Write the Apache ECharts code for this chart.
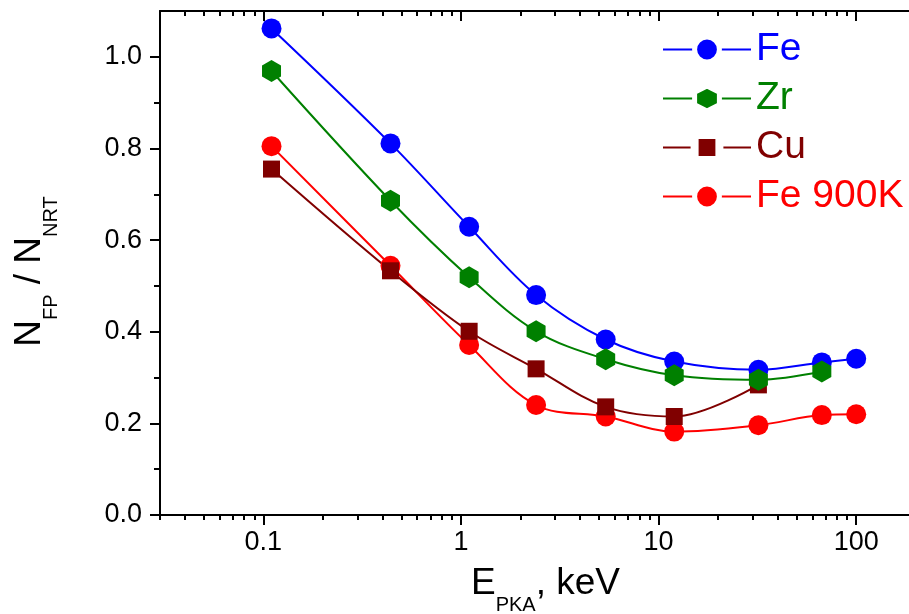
<!DOCTYPE html>
<html><head><meta charset="utf-8">
<script src="https://cdn.jsdelivr.net/npm/echarts@6/dist/echarts.min.js"></script>
<style>html,body{margin:0;padding:0;background:#fff}#c{width:909px;height:614px}</style>
</head><body><div id="c"></div>
<script>
// ---- data ----
const energies = [0.11, 0.44, 1.1, 2.4, 5.4, 12, 32, 67, 100];
const feValues = [1.062, 0.811, 0.629, 0.480, 0.383, 0.335, 0.317, 0.333, 0.341];
const zrValues = [0.969, 0.686, 0.519, 0.401, 0.340, 0.305, 0.295, 0.313];
const cuValues = [0.755, 0.533, 0.401, 0.319, 0.236, 0.215, 0.284];
const fe900Values = [0.805, 0.544, 0.371, 0.240, 0.215, 0.182, 0.196, 0.218, 0.220];
const seriesNames = ['Fe', 'Zr', 'Cu', 'Fe 900K'];
const xMajorTicks = [0.1, 1, 10, 100];
const xMinorTicks = [0.03, 0.04, 0.05, 0.06, 0.07, 0.08, 0.09,
  0.2, 0.3, 0.4, 0.5, 0.6, 0.7, 0.8, 0.9,
  2, 3, 4, 5, 6, 7, 8, 9,
  20, 30, 40, 50, 60, 70, 80, 90];
const yMajorTicks = [0, 0.2, 0.4, 0.6, 0.8, 1.0];
const yMinorTicks = [0.1, 0.3, 0.5, 0.7, 0.9];

const FONT = 'Arial, "Liberation Sans", sans-serif';
const colors = {'Fe': '#0000ff', 'Zr': '#008000', 'Cu': '#800000', 'Fe 900K': '#ff0000'};
const HEX = 'path://M0,-10L8.66,-5L8.66,5L0,10L-8.66,5L-8.66,-5Z';

function pairs(vals) { return vals.map((v, i) => [energies[i], v]); }

const gridRect = {left: 160, right: 0, top: 11, bottom: 99, outerBoundsMode: 'none'};
const axisLineStyle = {show: true, lineStyle: {color: '#000', width: 2}};

function mkSeries(name, vals, symbol, size) {
  return {
    name, type: 'line', xAxisIndex: 0, yAxisIndex: 0,
    data: pairs(vals), smooth: 0.35,
    symbol, symbolSize: size, symbolKeepAspect: false,
    color: colors[name],
    lineStyle: {color: colors[name], width: 2},
    itemStyle: {color: colors[name], borderWidth: 0},
    emphasis: {disabled: true}
  };
}

const chart = echarts.init(document.getElementById('c'), null, {renderer: 'canvas'});
chart.setOption({
  animation: false,
  backgroundColor: '#fff',
  grid: [Object.assign({}, gridRect), Object.assign({}, gridRect)],
  legend: {
    orient: 'vertical', left: 662, top: 30, padding: 0,
    itemWidth: 88, itemHeight: 31, itemGap: 10,
    textStyle: {fontSize: 39, fontFamily: FONT},
    itemStyle: {borderColor: '#fff', borderWidth: 5},
    data: [
      {name: 'Fe', textStyle: {color: colors['Fe']}},
      {name: 'Zr', textStyle: {color: colors['Zr']}},
      {name: 'Cu', textStyle: {color: colors['Cu']}, itemStyle: {borderColor: '#fff', borderWidth: 8}},
      {name: 'Fe 900K', textStyle: {color: colors['Fe 900K']}}
    ]
  },
  xAxis: [
    { gridIndex: 0, type: 'log', position: 'bottom', min: 0.03, max: 185,
      axisLine: axisLineStyle, splitLine: {show: false},
      axisTick: {show: true, customValues: xMajorTicks, length: 10, inside: false, lineStyle: {color: '#000', width: 2}},
      axisLabel: {show: true, customValues: xMajorTicks, color: '#000', fontSize: 27, fontFamily: FONT, margin: 14,
        formatter: v => String(v)},
      name: '{m|E}{s|PKA}{m|, keV}', nameLocation: 'middle', nameGap: 50, nameMoveOverlap: false,
      nameTextStyle: {padding: [0, 0, 0, 22], rich: {
        m: {fontSize: 37, fontFamily: FONT, color: '#000'},
        s: {fontSize: 20, fontFamily: FONT, color: '#000', lineHeight: 20, padding: [44, 0, 0, 0]}
      }}
    },
    { gridIndex: 0, type: 'log', position: 'top', min: 0.03, max: 185,
      axisLine: axisLineStyle, splitLine: {show: false},
      axisTick: {show: true, customValues: xMajorTicks, length: 10, inside: true, lineStyle: {color: '#000', width: 2}},
      axisLabel: {show: false}
    },
    { gridIndex: 1, type: 'log', position: 'bottom', min: 0.03, max: 185,
      axisLine: {show: false}, splitLine: {show: false},
      axisTick: {show: true, customValues: xMinorTicks, length: 5, inside: false, lineStyle: {color: '#000', width: 2}},
      axisLabel: {show: false}
    },
    { gridIndex: 1, type: 'log', position: 'top', min: 0.03, max: 185,
      axisLine: {show: false}, splitLine: {show: false},
      axisTick: {show: true, customValues: xMinorTicks, length: 5, inside: true, lineStyle: {color: '#000', width: 2}},
      axisLabel: {show: false}
    }
  ],
  yAxis: [
    { gridIndex: 0, type: 'value', position: 'left', min: 0, max: 1.1,
      axisLine: axisLineStyle, splitLine: {show: false},
      axisTick: {show: true, customValues: yMajorTicks, length: 10, inside: false, lineStyle: {color: '#000', width: 2}},
      axisLabel: {show: true, customValues: yMajorTicks, color: '#000', fontSize: 27, fontFamily: FONT, margin: 18,
        formatter: v => v.toFixed(1)},
      name: '{m|N}{s|FP}{m| / N}{s|NRT}', nameLocation: 'middle', nameGap: 112, nameMoveOverlap: false,
      nameTextStyle: {padding: [0, 17, 0, 0], rich: {
        m: {fontSize: 37, fontFamily: FONT, color: '#000'},
        s: {fontSize: 20, fontFamily: FONT, color: '#000', lineHeight: 20, padding: [44, 0, 0, 0]}
      }}
    },
    { gridIndex: 1, type: 'value', position: 'left', min: 0, max: 1.1,
      axisLine: {show: false}, splitLine: {show: false},
      axisTick: {show: true, customValues: yMinorTicks, length: 6, inside: false, lineStyle: {color: '#000', width: 2}},
      axisLabel: {show: false}
    }
  ],
  series: [
    mkSeries('Fe 900K', fe900Values, 'circle', 20),
    mkSeries('Cu', cuValues, 'rect', 17),
    mkSeries('Fe', feValues, 'circle', 20),
    mkSeries('Zr', zrValues, HEX, [19, 22])
  ]
});
</script>
</body></html>
